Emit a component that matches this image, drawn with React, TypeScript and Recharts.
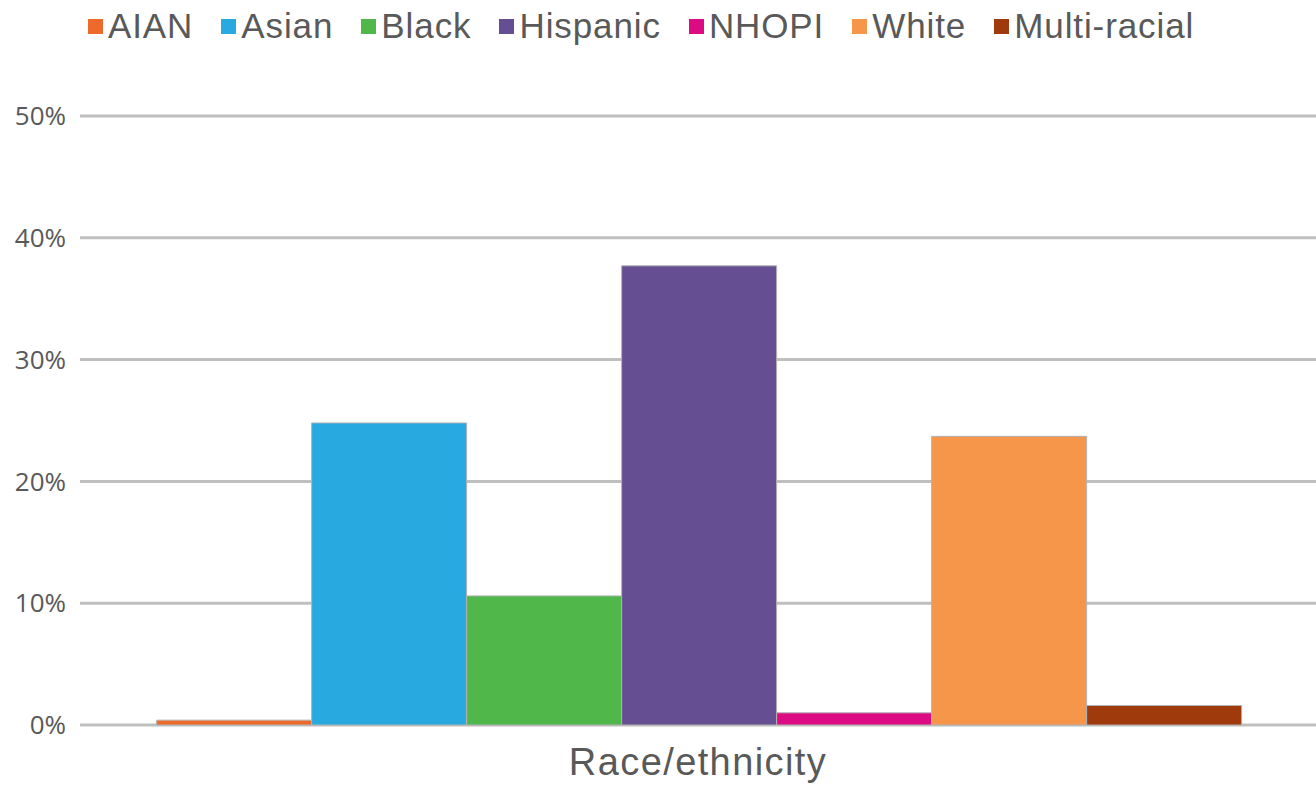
import React from 'react';
import { BarChart, Bar, XAxis, YAxis, CartesianGrid, Legend } from 'recharts';

const categories = ['Race/ethnicity'];
const seriesNames = ['AIAN', 'Asian', 'Black', 'Hispanic', 'NHOPI', 'White', 'Multi-racial'];
const seriesValues = [0.4, 24.8, 10.6, 37.7, 1.0, 23.7, 1.6];
const seriesColors = ['#EE6A2B', '#28A9E0', '#50B74B', '#654F92', '#DC0A83', '#F5964A', '#9E3A0C'];
const yTicks = [0, 10, 20, 30, 40, 50];

const data = categories.map((c) => {
  const row: Record<string, any> = { category: c };
  seriesNames.forEach((n, i) => {
    row[n] = seriesValues[i];
  });
  return row;
});

const renderLegend = () => (
  <div style={{ display: 'flex', alignItems: 'center', fontFamily: '"Liberation Sans", Arial, sans-serif', fontSize: 35, lineHeight: '40px', letterSpacing: 0.9, color: '#595959', whiteSpace: 'nowrap' }}>
    {seriesNames.map((n, i) => (
      <div key={n} style={{ display: 'flex', alignItems: 'center', marginRight: 28 }}>
        <div style={{ width: 15, height: 15, background: seriesColors[i], marginRight: 5 }} />
        <span>{n}</span>
      </div>
    ))}
  </div>
);

export default function App() {
  return (
    <div style={{ position: 'absolute', left: 0, top: 0, background: '#fff' }}>
      <BarChart
        width={1316}
        height={787}
        data={data}
        margin={{ top: 76, right: 0, left: 0, bottom: 0 }}
        barCategoryGap="6.2%"
        barGap={0}
      >
        <CartesianGrid horizontal={true} vertical={false} stroke="#bfbfbf" strokeWidth={3} />
        <XAxis
          dataKey="category"
          axisLine={false}
          tickLine={false}
          tickSize={0}
          tickMargin={23}
          height={62}
          tick={{ fontSize: 38, fill: '#595959', fontFamily: '"Liberation Sans", Arial, sans-serif', letterSpacing: 1.4 }}
        />
        <YAxis
          width={80}
          domain={[0, 50]}
          ticks={yTicks}
          tickFormatter={(v) => `${v}%`}
          axisLine={false}
          tickLine={false}
          tickSize={0}
          tickMargin={14}
          tick={{ fontSize: 26, fill: '#595959', fontFamily: '"Open Sans", sans-serif' }}
        />
        <Legend verticalAlign="top" align="left" content={renderLegend} wrapperStyle={{ top: 6, left: 88 }} />
        {seriesNames.map((n, i) => (
          <Bar key={n} dataKey={n} fill={seriesColors[i]} stroke="#b3b3b3" strokeWidth={1} isAnimationActive={false} />
        ))}
      </BarChart>
    </div>
  );
}
